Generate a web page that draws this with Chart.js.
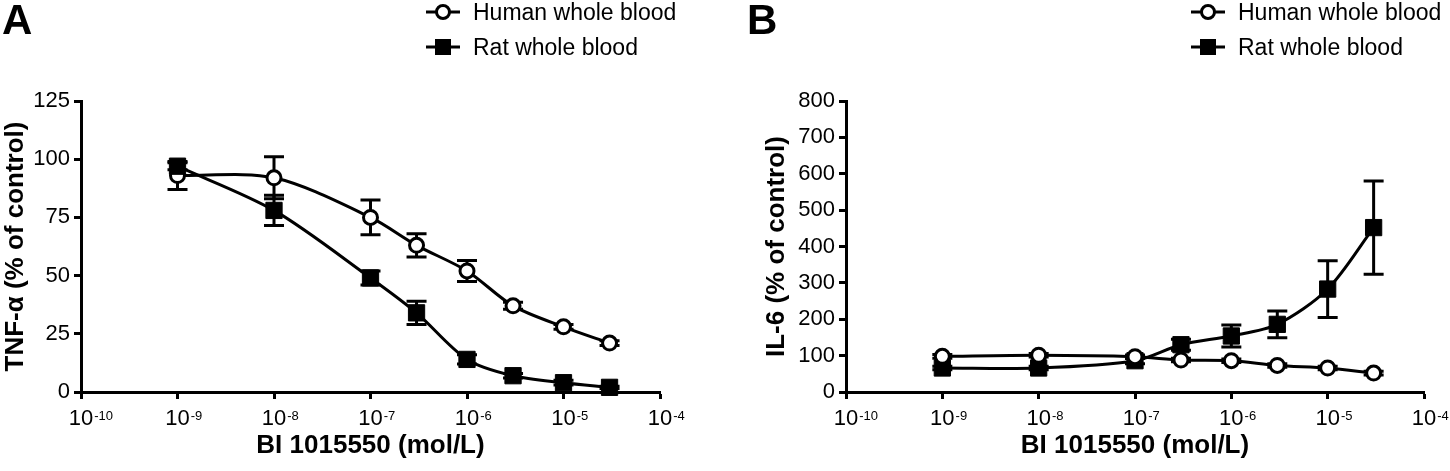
<!DOCTYPE html>
<html><head><meta charset="utf-8">
<script src="https://cdn.jsdelivr.net/npm/chart.js@4"></script>
<style>
html,body{margin:0;padding:0;background:#fff;width:1450px;height:471px;overflow:hidden}
.p{position:absolute;top:0;width:725px;height:471px}
</style></head><body>
<div class="p" style="left:0"><canvas id="cA" width="725" height="471"></canvas></div>
<div class="p" style="left:725px"><canvas id="cB" width="725" height="471"></canvas></div>
<script>
// ---- data ----
const doses = [1e-9, 1e-8, 1e-7, 3e-7, 1e-6, 3e-6, 1e-5, 3e-5];
const xTickValues = [1e-10, 1e-9, 1e-8, 1e-7, 1e-6, 1e-5, 1e-4];
const xTickBase = '10';
const xTickExponents = ['-10', '-9', '-8', '-7', '-6', '-5', '-4'];
const seriesNames = ['Human whole blood', 'Rat whole blood'];

const tnfHuman    = [93, 92, 75, 63, 52, 37, 28, 21];
const tnfHumanErr = [6, 9, 7.5, 5, 4.5, 1.5, 1, 1];
const tnfRat      = [97, 78, 49, 34, 14, 7, 4, 2];
const tnfRatErr   = [1.5, 6.5, 3, 5, 2, 1, 1, 0.5];

const il6Human    = [98, 101, 97, 88, 86, 73, 66, 52];
const il6HumanErr = [5, 5, 5, 5, 5, 5, 5, 5];
const il6Rat      = [66, 66, 86, 130, 154, 186, 283, 452];
const il6RatErr   = [5, 5, 8, 15, 30, 37, 78, 128];

const FONT = "'Liberation Sans', Arial, sans-serif";

const errorBarPlugin = {
  id: 'errorBars',
  beforeDatasetsDraw(chart) {
    const ctx = chart.ctx, ys = chart.scales.y;
    ctx.save();
    ctx.strokeStyle = '#000';
    ctx.lineWidth = 3;
    chart.data.datasets.forEach((ds, i) => {
      const meta = chart.getDatasetMeta(i);
      ds.errors.forEach((e, j) => {
        const p = meta.data[j];
        const v = ds.data[j].y;
        const yt = ys.getPixelForValue(v + e), yb = ys.getPixelForValue(Math.max(v - e, 0));
        ctx.beginPath();
        ctx.moveTo(p.x, yt); ctx.lineTo(p.x, yb);
        ctx.moveTo(p.x - 10, yt); ctx.lineTo(p.x + 10, yt);
        ctx.moveTo(p.x - 10, yb); ctx.lineTo(p.x + 10, yb);
        ctx.stroke();
      });
    });
    ctx.restore();
  }
};

const xLabelPlugin = {
  id: 'xLabels',
  afterDraw(chart) {
    const ctx = chart.ctx, xs = chart.scales.x;
    ctx.save();
    ctx.fillStyle = '#000';
    ctx.textBaseline = 'alphabetic';
    xTickValues.forEach((v, i) => {
      const px = xs.getPixelForValue(v);
      ctx.font = '22px ' + FONT;
      ctx.textAlign = 'center';
      ctx.fillText(xTickBase, px, 425);
      const w = ctx.measureText(xTickBase).width;
      ctx.font = '13px ' + FONT;
      ctx.textAlign = 'left';
      ctx.fillText(xTickExponents[i], px + w / 2 + 1, 419.5);
    });
    ctx.restore();
  }
};

const panelPlugin = {
  id: 'panel',
  afterDraw(chart, args, opts) {
    const ctx = chart.ctx, L = chart.chartArea.left;
    ctx.save();
    ctx.fillStyle = '#000';
    ctx.textBaseline = 'alphabetic';
    ctx.font = 'bold 42px ' + FONT;
    ctx.fillText(opts.letter, opts.letterX, 33.5);
    const rows = [12, 47];
    ctx.font = '23px ' + FONT;
    chart.data.datasets.forEach((ds, i) => {
      const cy = rows[i], cx = L + 362;
      ctx.strokeStyle = '#000';
      ctx.lineWidth = 3;
      ctx.beginPath(); ctx.moveTo(cx - 17, cy); ctx.lineTo(cx + 17, cy); ctx.stroke();
      if (ds.pointStyle === 'circle') {
        ctx.beginPath(); ctx.arc(cx, cy, 6.5, 0, Math.PI * 2);
        ctx.fillStyle = '#fff'; ctx.fill(); ctx.stroke();
      } else {
        ctx.fillStyle = '#000'; ctx.fillRect(cx - 8, cy - 8, 16, 16);
      }
      ctx.fillStyle = '#000';
      ctx.fillText(ds.label, L + 392, cy + 7.5);
    });
    ctx.restore();
  }
};

function makePanel(id, letter, letterX, yTitle, yMax, yStep, hum, humErr, rat, ratErr, padL, axisW, padR, humanOnTop) {
  const pts = arr => doses.map((d, i) => ({ x: d, y: arr[i] }));
  const tickFont = { family: FONT, size: 22 };
  const titleFont = { family: FONT, size: 26, weight: 'bold' };
  return new Chart(document.getElementById(id), {
    type: 'line',
    data: {
      datasets: [
        { label: seriesNames[0], data: pts(hum), errors: humErr, borderColor: '#000', borderWidth: 3,
          pointStyle: 'circle', pointRadius: 7, pointBackgroundColor: '#fff', pointBorderColor: '#000',
          pointBorderWidth: 3, tension: 0.3, order: humanOnTop ? 0 : 1, clip: false },
        { label: seriesNames[1], data: pts(rat), errors: ratErr, borderColor: '#000', borderWidth: 3,
          pointStyle: 'rect', pointRadius: 11.5, pointBackgroundColor: '#000', pointBorderColor: '#000',
          pointBorderWidth: 1, tension: 0.3, order: humanOnTop ? 1 : 0, clip: false }
      ]
    },
    options: {
      responsive: false, animation: false, devicePixelRatio: 1,
      layout: { padding: { left: padL, right: padR, top: 101, bottom: 0 } },
      plugins: { legend: { display: false }, tooltip: { enabled: false },
                 panel: { letter: letter, letterX: letterX } },
      scales: {
        x: {
          type: 'logarithmic', min: 1e-10, max: 1e-4,
          afterBuildTicks: s => { s.ticks = xTickValues.map(v => ({ value: v })); },
          afterFit: s => { s.height = 79; },
          ticks: { display: false },
          grid: { drawOnChartArea: false, tickLength: 7, tickWidth: 3, tickColor: '#000' },
          border: { color: '#000', width: 3 },
          title: { display: true, text: 'BI 1015550 (mol/L)', font: titleFont, color: '#000',
                   padding: { top: 0, bottom: 10 } }
        },
        y: {
          min: 0, max: yMax,
          afterFit: s => { s.width = axisW; },
          ticks: { stepSize: yStep, font: tickFont, color: '#000', padding: 4 },
          grid: { drawOnChartArea: false, tickLength: 7, tickWidth: 3, tickColor: '#000' },
          border: { color: '#000', width: 3 },
          title: { display: true, text: yTitle, font: titleFont, color: '#000', padding: 0 }
        }
      }
    },
    plugins: [errorBarPlugin, xLabelPlugin, panelPlugin]
  });
}

makePanel('cA', 'A', 2, 'TNF-α (% of control)', 125, 25, tnfHuman, tnfHumanErr, tnfRat, tnfRatErr, 0, 81, 65, false);
makePanel('cB', 'B', 22, 'IL-6 (% of control)', 800, 100, il6Human, il6HumanErr, il6Rat, il6RatErr, 36, 85, 26, true);
</script>
</body></html>
